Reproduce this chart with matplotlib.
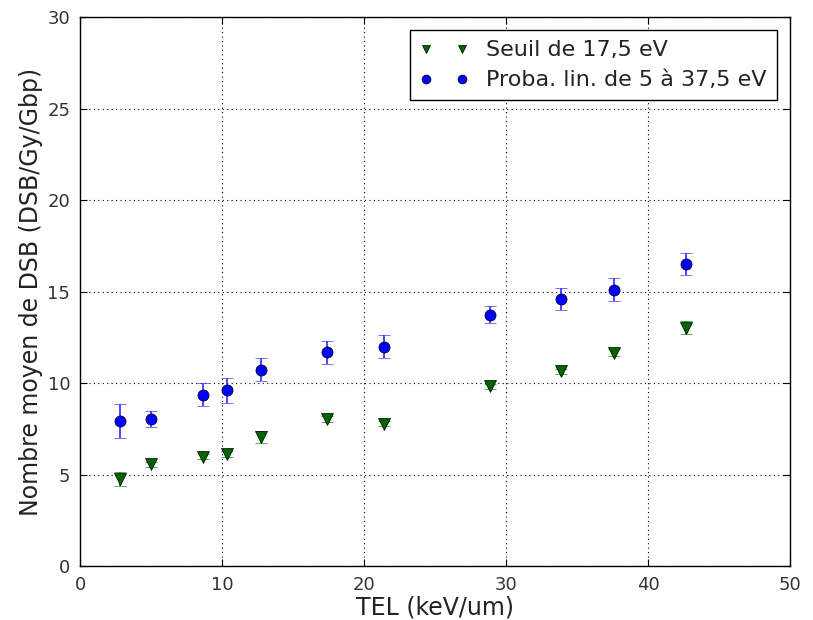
import matplotlib
matplotlib.use("Agg")
import matplotlib.pyplot as plt

tel = [2.82, 5.0, 8.64, 10.33, 12.75, 17.42, 21.41, 28.9, 33.9, 37.63, 42.7]
seuil = [4.76, 5.56, 5.98, 6.12, 7.03, 8.03, 7.78, 9.81, 10.63, 11.66, 13.02]
seuil_err = [0.38, 0.15, 0.15, 0.15, 0.33, 0.15, 0.15, 0.15, 0.15, 0.2, 0.36]
proba = [7.92, 8.05, 9.37, 9.61, 10.73, 11.68, 11.99, 13.73, 14.6, 15.09, 16.48]
proba_err = [0.95, 0.44, 0.65, 0.68, 0.63, 0.62, 0.63, 0.47, 0.6, 0.63, 0.6]

plt.rcParams['font.family'] = ['DejaVu Sans']
fig = plt.figure(figsize=(8.13, 6.2), dpi=100)
ax = fig.add_axes([80/813, 1-566/620, 710/813, 549/620])

ax.errorbar(tel, seuil, yerr=seuil_err, fmt='v', color='#006400', mec='black', mew=0.5,
            ms=8, ecolor='#1a8c1a', capsize=4, elinewidth=1.2, capthick=1.2,
            label='Seuil de 17,5 eV', zorder=3)
ax.errorbar(tel, proba, yerr=proba_err, fmt='o', color='#0000ff', mec='black', mew=0.5,
            ms=8, ecolor='#3a3aff', capsize=4, elinewidth=1.3, capthick=1.3,
            label='Proba. lin. de 5 à 37,5 eV', zorder=3)

ax.set_xlim(0, 50)
ax.set_ylim(0, 30)
ax.set_xticks(range(0, 51, 10))
ax.set_yticks(range(0, 31, 5))
ax.grid(True, linestyle=(0, (1, 3)), color='black', linewidth=0.8)
ax.tick_params(direction='in', top=True, right=True, labelsize=13, length=5, pad=7,
               labelcolor='#333333')
for s in ax.spines.values():
    s.set_linewidth(1.0)
ax.set_xlabel('TEL (keV/um)', fontsize=17, color='#222222', labelpad=1)
ax.set_ylabel('Nombre moyen de DSB (DSB/Gy/Gbp)', fontsize=17, color='#222222', labelpad=3)

handles, labels = ax.get_legend_handles_labels()
h2 = [h[0] for h in handles]
leg = ax.legend(h2, labels, loc='upper right', numpoints=2, fontsize=16, markerscale=0.8,
                fancybox=False, edgecolor='black', framealpha=1, borderaxespad=0.6,
                handlelength=2.2, borderpad=0.45, labelspacing=0.45)
leg.get_frame().set_linewidth(1.0)
for t in leg.get_texts():
    t.set_color('#222222')

fig.savefig('out.png', dpi=100)
